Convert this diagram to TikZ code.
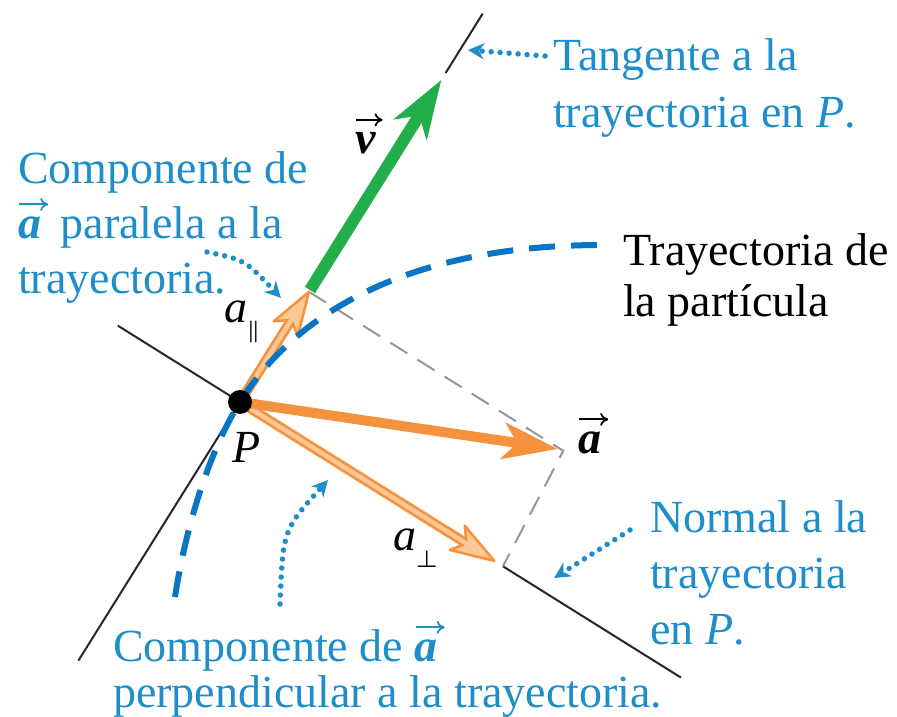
\RequirePackage{fix-cm}
\documentclass[tikz,border=0pt]{standalone}
\usepackage{fontspec}
\setmainfont{Liberation Serif}
\usetikzlibrary{arrows.meta,calc}
\definecolor{blueT}{RGB}{30,142,202}
\definecolor{blueC}{RGB}{8,118,196}
\definecolor{orangeC}{RGB}{245,146,62}
\definecolor{lightor}{RGB}{251,200,150}
\definecolor{greenC}{RGB}{34,174,74}
\definecolor{greyD}{RGB}{150,150,150}
\newcommand{\vecb}[1]{\tikz[baseline=(vv.base)]{\node[inner sep=0pt, outer sep=0pt] (vv) {\bfseries\itshape #1};
  \draw[line width=1.8pt, -{To[length=8pt,width=13pt]}] ($(vv.north west)+(1pt,12pt)$) -- ($(vv.north east)+(7pt,12pt)$);}}
\newcommand{\comparrow}[2]{%
  \draw[orangeC, line width=10pt] (#1) -- ($(#2)!30pt!(#1)$);
  \filldraw[fill=lightor, draw=orangeC, line width=2.5pt, line join=round]
    (#2) -- ($(#2)!46pt!18:(#1)$) -- ($(#2)!33pt!(#1)$) -- ($(#2)!46pt!-18:(#1)$) -- cycle;
  \draw[lightor, line width=4.5pt] (#1) -- ($(#2)!31pt!(#1)$);
}
\begin{document}
\begin{tikzpicture}[x=1pt,y=-1pt,
  lbl/.style={inner sep=0pt, align=left, anchor=base west},
  big/.style={font=\fontsize{46}{#1}\selectfont},
  thinline/.style={black!85, line width=2pt},
  guide/.style={greyD, line width=2pt, dash pattern=on 20pt off 12pt},
  dotarr/.style={blueT, line width=5.5pt, line cap=round, dash pattern=on 0pt off 9pt,
    -{Stealth[length=16pt,width=16pt,inset=5pt]}},
  traj/.style={blueC, line width=6pt, dash pattern=on 26pt off 16pt}]
\useasboundingbox (0,0) rectangle (897,717);

% key points
\coordinate (P) at (240,402);
\coordinate (tanlow) at (78.4,660.6);
\coordinate (tanup1) at (445.6,73);
\coordinate (tanup2) at (482.7,13.6);
\coordinate (normul) at (117.9,325.7);
\coordinate (normlr1) at (502.9,566.3);
\coordinate (normlr2) at (681,677.6);
\coordinate (apar) at (308.9,291.8);
\coordinate (aperp) at (494.4,561);
\coordinate (corner) at (563.3,450.8);
\coordinate (atip) at (558,449);
\coordinate (gs) at (310,290);
\coordinate (gt) at (441.4,79.8);
\coordinate (trajA) at (175,597);
\coordinate (trajB) at (602,245);

% tangent and normal lines
\draw[thinline] (tanlow) -- (P);
\draw[thinline] (tanup1) -- (tanup2);
\draw[thinline] (normul) -- (P);
\draw[thinline] (normlr1) -- (normlr2);

% guide dashes
\draw[guide] (apar) -- (corner) -- (normlr1);

% component arrows
\comparrow{P}{aperp}
\comparrow{P}{apar}

% trajectory
\draw[traj] (trajA) .. controls (186,525) and (210,450) .. (P)
  .. controls (300,306) and (420,245) .. (trajB);

% acceleration
\draw[orangeC, line width=10pt, -{Stealth[length=55pt,width=36pt,inset=14pt]}] (P) -- (atip);

% velocity
\draw[greenC, line width=12pt, -{Stealth[length=58pt,width=38pt,inset=16pt]}] (gs) -- (gt);

% point P
\node[circle, fill=black, inner sep=0pt, minimum size=24pt] (Pdot) at (P) {};

% symbol labels
\node[lbl, big=55] (vlab) at (355,153) {\vecb{v}};
\node[lbl, big=55] (aparlab) at (224,322) {\textit{a}\raisebox{-15pt}{\fontsize{22}{22}\selectfont\mathversion{bold}$\parallel$}};
\node[lbl, big=55] (Plab) at (232,462) {\textit{P}};
\node[lbl, big=55] (alab) at (578,453) {\vecb{a}};
\node[lbl, big=55] (aperplab) at (393,550) {\textit{a}\raisebox{-17pt}{\fontsize{24}{24}\selectfont\mathversion{bold}$\perp$}};

% text labels (anchored at the baseline of the last line)
\node[lbl, big=57, blueT] (tang) at (553,127) {Tangente a la\\trayectoria en \textit{P}.};
\node[lbl, big=55, blueT] (comppar) at (18,293) {Componente de\\\vecb{a} paralela a la\\trayectoria.};
\node[lbl, big=51, black] (tray) at (623,316) {Trayectoria de\\la partícula};
\node[lbl, big=56, blueT] (normal) at (650,644) {Normal a la\\trayectoria\\en \textit{P}.};
\node[lbl, big=46, blueT] (compperp) at (113,707) {Componente de \vecb{a}\\perpendicular a la trayectoria.};

% dotted pointers
\coordinate (d1s) at (545,56);
\coordinate (d1e) at (468,50);
\draw[dotarr] (d1s) -- (d1e);
\coordinate (d2s) at (207,252);
\coordinate (d2e) at (281,298);
\draw[dotarr] (d2s) .. controls (245,260) .. (d2e);
\coordinate (d3s) at (280,604);
\coordinate (d3e) at (328,480);
\draw[dotarr] (d3s) .. controls (283,530) .. (d3e);
\coordinate (d4s) at (630,530);
\coordinate (d4e) at (554,578);
\draw[dotarr] (d4s) -- (d4e);
\end{tikzpicture}
\end{document}
